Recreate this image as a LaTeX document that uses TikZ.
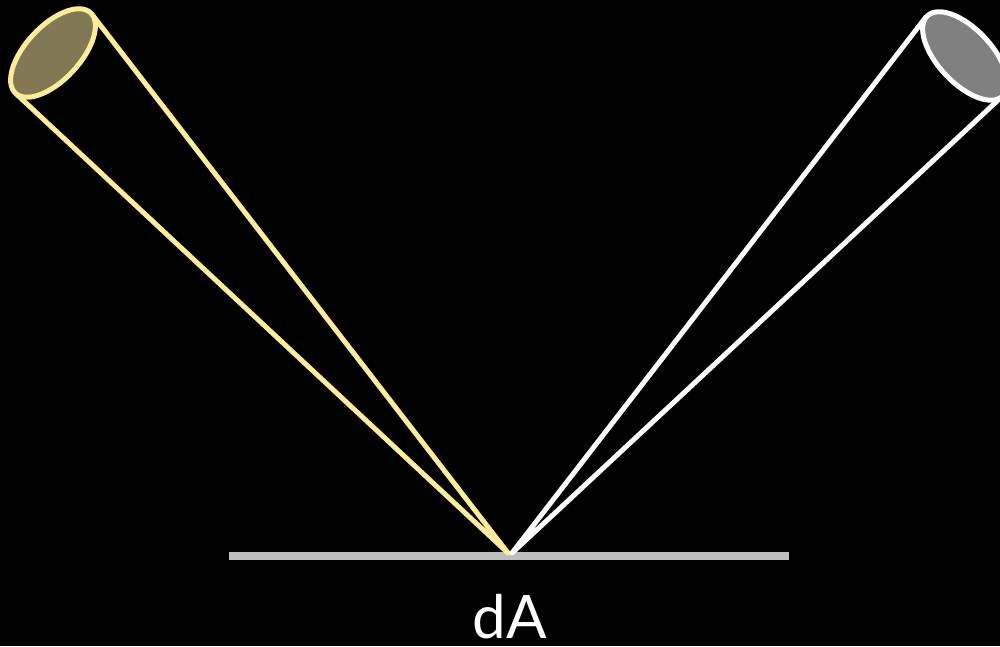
\documentclass[tikz,border=0pt]{standalone}
\usepackage{fontspec}
\setmainfont{Lato}
\definecolor{cyel}{RGB}{255,236,150}
\definecolor{cyelfill}{RGB}{128,121,84}
\definecolor{cgrayfill}{RGB}{128,128,128}
\definecolor{cbar}{RGB}{190,190,190}
\tikzset{
  cone/.style={line width=5pt, line cap=round, line join=round},
  bar/.style={line width=8pt, cbar},
  lbl/.style={text=white, font=\fontsize{60}{60}\selectfont, inner sep=0pt, anchor=base}
}
\begin{document}
\begin{tikzpicture}[x=1pt,y=1pt]
\fill[black] (0,0) rectangle (1000,646);
\useasboundingbox (0,0) rectangle (1000,646);
\begin{scope}
\clip (0,0) rectangle (1000,646);
% surface
\coordinate (barL) at (229,90);
\coordinate (barR) at (789,90);
\draw[bar] (barL) -- (barR);
% apexes
\coordinate (apexY) at (508,93);
\coordinate (apexW) at (512,93);
% yellow cone
\coordinate (cY) at (53,593);
\coordinate (tY1) at (92,631.6);
\coordinate (tY2) at (15.5,552.8);
\draw[cone, cyel] (tY1) -- (apexY) -- (tY2);
\draw[cone, cyel, fill=cyelfill] (cY) ellipse[x radius=55, y radius=27, rotate=47];
% white cone
\coordinate (cW) at (965,590);
\coordinate (tW1) at (926,629);
\coordinate (tW2) at (1002.5,550);
\draw[cone, white] (tW1) -- (apexW) -- (tW2);
\draw[cone, white, fill=cgrayfill] (cW) ellipse[x radius=55, y radius=27, rotate=-47];
\end{scope}
% label
\node[lbl] (dA) at (510,8) {dA};
\end{tikzpicture}
\end{document}
